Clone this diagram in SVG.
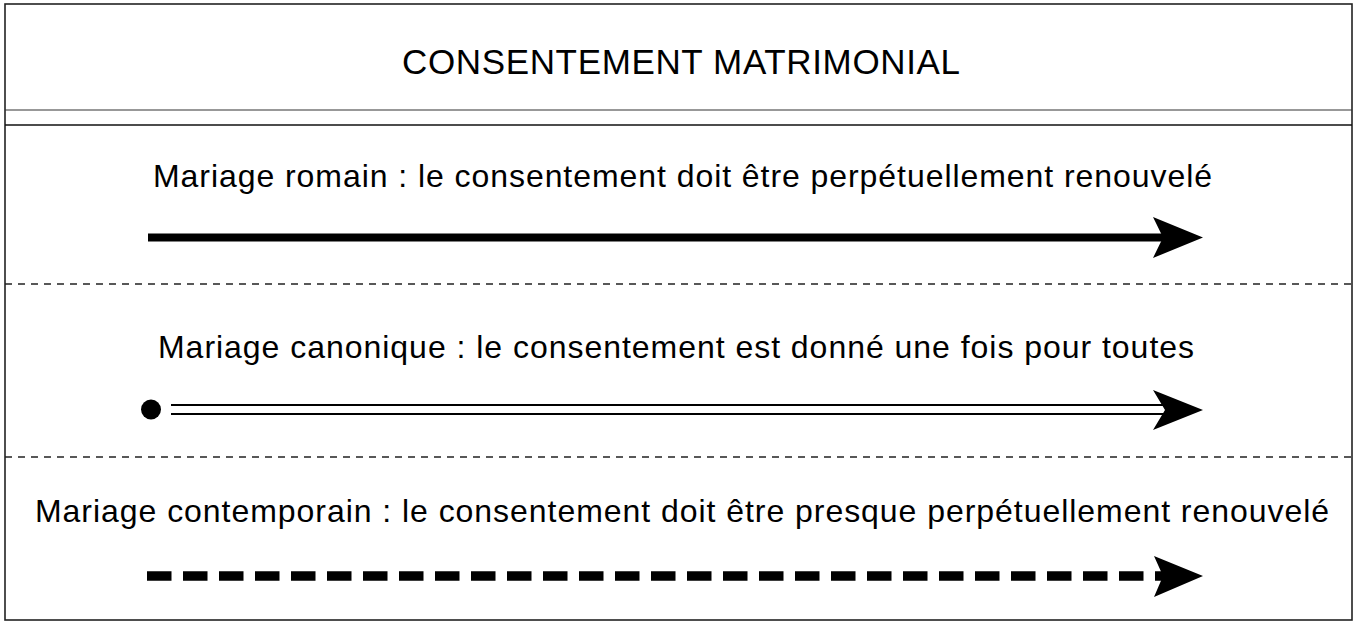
<svg xmlns="http://www.w3.org/2000/svg" width="1358" height="625" viewBox="0 0 1358 625">
<style>
text{font-family:"Liberation Sans",Arial,sans-serif;fill:#000;text-anchor:middle}
.t{font-size:35px}
.l{font-size:32px}
.sep{stroke:#222;stroke-width:1.3;stroke-dasharray:7 6;fill:none}
</style>
<rect x="0" y="0" width="1358" height="625" fill="#fff"/>
<g id="frame">
<rect x="5" y="4" width="1347" height="616" fill="none" stroke="#222" stroke-width="1.6"/>
<line x1="5" y1="110" x2="1352" y2="110" stroke="#333" stroke-width="1.2"/>
<line x1="5" y1="125" x2="1352" y2="125" stroke="#111" stroke-width="1.6"/>
<line class="sep" x1="5" y1="284" x2="1352" y2="284"/>
<line class="sep" x1="5" y1="457" x2="1352" y2="457"/>
</g>
<g id="title"><text class="t" x="681" y="74" textLength="558" lengthAdjust="spacing">CONSENTEMENT MATRIMONIAL</text></g>
<g id="romain">
<text class="l" x="682.5" y="187" textLength="1059" lengthAdjust="spacing">Mariage romain : le consentement doit être perpétuellement renouvelé</text>
</g>
<g id="canonique">
<text class="l" x="676" y="358" textLength="1036" lengthAdjust="spacing">Mariage canonique : le consentement est donné une fois pour toutes</text>
</g>
<g id="contemporain">
<text class="l" x="682" y="522" textLength="1294" lengthAdjust="spacing">Mariage contemporain : le consentement doit être presque perpétuellement renouvelé</text>
</g>
<g id="connectors">
<line x1="148" y1="237.5" x2="1165" y2="237.5" stroke="#000" stroke-width="8"/>
<path d="M1203 237.5 L1153 217 L1163 237.5 L1153 258 Z" fill="#000"/>
<circle cx="151" cy="409.5" r="10" fill="#000"/>
<line x1="171" y1="405" x2="1168" y2="405" stroke="#000" stroke-width="1.8"/>
<line x1="171" y1="414" x2="1168" y2="414" stroke="#000" stroke-width="1.8"/>
<path d="M1203 410 L1153 390 L1165 410 L1153 430 Z" fill="#000"/>
<line x1="147" y1="576" x2="1168" y2="576" stroke="#000" stroke-width="9.5" stroke-dasharray="24.5 11.5"/>
<path d="M1203 576 L1154 556 L1163 576 L1154 597 Z" fill="#000"/>
</g>
</svg>
